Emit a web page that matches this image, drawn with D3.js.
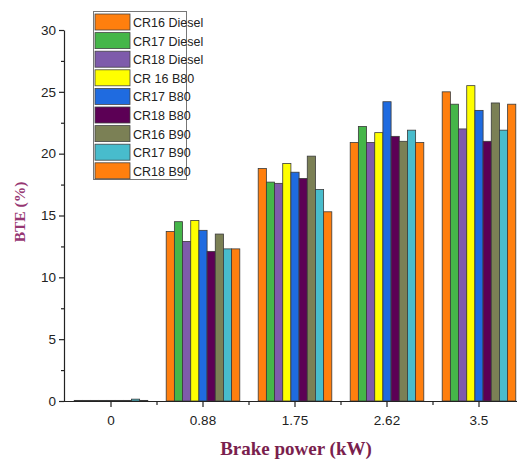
<!DOCTYPE html>
<html>
<head>
<meta charset="utf-8">
<script src="https://cdn.jsdelivr.net/npm/d3@7"></script>
<style>
  html, body { margin: 0; padding: 0; background: #fff; }
  svg { display: block; }
</style>
</head>
<body>
<svg id="chart" width="517" height="462"></svg>
<script>
// Brake power loads (kW)
const loads = ["0", "0.88", "1.75", "2.62", "3.5"];

// Fuel / compression-ratio combinations
const series = ["CR16 Diesel", "CR17 Diesel", "CR18 Diesel", "CR 16 B80", "CR17 B80", "CR18 B80", "CR16 B90", "CR17 B90", "CR18 B90"];

const colors = ["#ff7f0e", "#45b649", "#7e5bab", "#ffff00", "#1f6be0", "#5c0055", "#7b8055", "#48bccc", "#ff7f0e"];

// BTE (%) per series, one value per load
const cr16Diesel = [0.05, 13.7, 18.8, 20.9, 25.0];
const cr17Diesel = [0.05, 14.5, 17.7, 22.2, 24.0];
const cr18Diesel = [0.05, 12.9, 17.6, 20.9, 22.0];
const cr16B80    = [0.05, 14.6, 19.2, 21.7, 25.5];
const cr17B80    = [0.05, 13.8, 18.5, 24.2, 23.5];
const cr18B80    = [0.05, 12.1, 18.0, 21.4, 21.0];
const cr16B90    = [0.05, 13.5, 19.8, 21.0, 24.1];
const cr17B90    = [0.15, 12.3, 17.1, 21.9, 21.9];
const cr18B90    = [0.05, 12.3, 15.3, 20.9, 24.0];

const values = [cr16Diesel, cr17Diesel, cr18Diesel, cr16B80, cr17B80, cr18B80, cr16B90, cr17B90, cr18B90];

const yTicks = [0, 5, 10, 15, 20, 25, 30];

const svg = d3.select("#chart");
const plotLeft = 64, plotBottom = 401, plotTop = 30;

const x0 = d3.scaleBand().domain(loads).range([65, 525]).paddingInner(0.2).paddingOuter(0.1);
const x1 = d3.scaleBand().domain(series).range([0, x0.bandwidth()]);
const y = d3.scaleLinear().domain([0, 30]).range([plotBottom, plotTop]);

// Bars
const groups = svg.append("g").selectAll("g")
  .data(loads)
  .join("g")
  .attr("transform", d => `translate(${x0(d)},0)`);

groups.selectAll("rect")
  .data((d, i) => series.map((s, j) => ({ s, j, v: values[j][i] })))
  .join("rect")
  .attr("x", d => x1(d.s))
  .attr("y", d => y(d.v))
  .attr("width", x1.bandwidth())
  .attr("height", d => plotBottom - y(d.v))
  .attr("fill", d => colors[d.j])
  .attr("stroke", "#3a3a3a")
  .attr("stroke-width", 0.8);

// Y axis with minor ticks
const yAxis = svg.append("g").attr("transform", `translate(${plotLeft},0)`);
yAxis.call(d3.axisLeft(y).tickValues(yTicks).tickSize(5).tickPadding(3).tickSizeOuter(0));
yAxis.append("g").call(d3.axisLeft(y).tickValues([2.5, 7.5, 12.5, 17.5, 22.5, 27.5]).tickSize(3).tickFormat("").tickSizeOuter(0))
  .select(".domain").remove();
yAxis.selectAll("text").attr("font-family", "Liberation Sans, Arial, sans-serif").attr("font-size", 13.5).attr("fill", "#222");
yAxis.selectAll("line, path").attr("stroke", "#222").attr("stroke-width", 1.2);

// X axis with minor ticks at group boundaries
const xAxis = svg.append("g").attr("transform", `translate(0,${plotBottom})`);
xAxis.call(d3.axisBottom(x0).tickSize(6).tickPadding(8).tickSizeOuter(0));
xAxis.select(".domain").attr("d", `M${plotLeft},0.5H517`);
const minor = loads.slice(1).map(d => x0(d) - x0.step() * x0.paddingInner() / 2);
xAxis.selectAll(".minor").data(minor).join("line")
  .attr("class", "minor")
  .attr("x1", d => d).attr("x2", d => d)
  .attr("y1", 0).attr("y2", 4);
xAxis.selectAll("text").attr("font-family", "Liberation Sans, Arial, sans-serif").attr("font-size", 13.5).attr("fill", "#222");
xAxis.selectAll("line, path").attr("stroke", "#222").attr("stroke-width", 1.2);

// Axis titles
svg.append("text")
  .attr("x", 296).attr("y", 455)
  .attr("text-anchor", "middle")
  .attr("font-family", "Liberation Serif, Times New Roman, serif")
  .attr("font-weight", "bold")
  .attr("font-size", 19)
  .attr("fill", "#7a1f4e")
  .text("Brake power (kW)");

svg.append("text")
  .attr("transform", "translate(25,212) rotate(-90)")
  .attr("text-anchor", "middle")
  .attr("font-family", "Liberation Serif, Times New Roman, serif")
  .attr("font-weight", "bold")
  .attr("font-size", 15.5)
  .attr("fill", "#963672")
  .text("BTE (%)");

// Legend
const legend = svg.append("g").attr("transform", "translate(93,11)");
legend.append("rect")
  .attr("x", 0.5).attr("y", 0.5)
  .attr("width", 93).attr("height", 168)
  .attr("fill", "#fff")
  .attr("stroke", "#777")
  .attr("stroke-width", 1);
const item = legend.selectAll(".item").data(series).join("g")
  .attr("class", "item")
  .attr("transform", (d, i) => `translate(2,${3 + i * 18.6})`);
item.append("rect")
  .attr("width", 35).attr("height", 16)
  .attr("fill", (d, i) => colors[i])
  .attr("stroke", "#444")
  .attr("stroke-width", 0.8);
item.append("text")
  .attr("x", 38).attr("y", 13)
  .attr("font-family", "Liberation Sans, Arial, sans-serif")
  .attr("font-size", 12.5)
  .attr("fill", "#222")
  .text(d => d);
</script>
</body>
</html>
